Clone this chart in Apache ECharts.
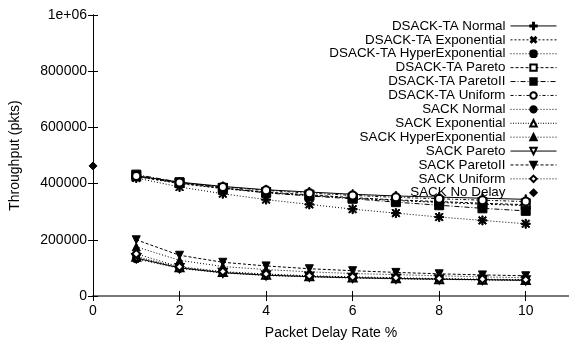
<!DOCTYPE html>
<html>
<head>
<meta charset="utf-8">
<script src="https://cdn.jsdelivr.net/npm/echarts@6/dist/echarts.min.js"></script>
<style>
  html, body { margin: 0; padding: 0; background: #fff; }
  #chart { width: 569px; height: 345px; }
</style>
</head>
<body>
<div id="chart"></div>
<script>
// Packet delay rate (%) on the x axis
const delayRates = [1, 2, 3, 4, 5, 6, 7, 8, 9, 10];

// Throughput (packets) per delay distribution
const dsackNormal      = [428000, 405000, 390000, 378000, 370000, 362000, 356000, 352000, 348000, 344000];
const dsackExponential = [425000, 400000, 382000, 368000, 358000, 348000, 340000, 333000, 327000, 322000];
const dsackHyperExp    = [420000, 388000, 364000, 343000, 326000, 309000, 295000, 281000, 269000, 257000];
const dsackPareto      = [426000, 402000, 384000, 370000, 360000, 350000, 342000, 336000, 330000, 325000];
const dsackParetoII    = [432000, 405000, 385000, 367000, 356000, 346000, 334000, 323000, 312000, 303000];
const dsackUniform     = [427000, 404000, 388000, 376000, 366000, 358000, 351000, 346000, 341000, 336000];

const sackNormal       = [132000, 98000, 82000, 73000, 68000, 64000, 61000, 59000, 57000, 55000];
const sackExponential  = [140000, 102000, 85000, 76000, 70000, 66000, 63000, 60000, 58000, 57000];
const sackHyperExp     = [175000, 127000, 105000, 94000, 86000, 80000, 76000, 72000, 68000, 65000];
const sackPareto       = [135000, 100000, 83000, 74000, 69000, 65000, 62000, 60000, 58000, 56000];
const sackParetoII     = [200000, 145000, 120000, 107000, 97000, 90000, 84000, 79000, 75000, 72000];
const sackUniform      = [150000, 104000, 87000, 78000, 72000, 68000, 65000, 62000, 60000, 58000];

// Baseline without delay (single point at 0 %)
const noDelayRate = [0];
const noDelayThroughput = [463000];

const FONT = '"Liberation Sans", Arial, Helvetica, sans-serif';

// point glyphs
const PLUS = 'path://M4.3,0h1.4v10h-1.4zM0,4.3h10v1.4h-10z';
const STAR = 'path://M4.3,0h1.4v10h-1.4zM0,4.3h10v1.4h-10zM0.5,1.5L1.5,0.5L9.5,8.5L8.5,9.5zM8.5,0.5L9.5,1.5L1.5,9.5L0.5,8.5z';

function pairs(xs, ys) {
  return xs.map((x, i) => [x, ys[i]]);
}

function lineSeries(name, xs, ys, symbol, size, dash, rotate, noLine) {
  return {
    name: name,
    type: 'line',
    data: pairs(xs, ys),
    symbol: symbol,
    symbolSize: size,
    symbolRotate: rotate || 0,
    showAllSymbol: true,
    color: '#000',
    lineStyle: { color: '#000', width: noLine ? 0 : 1, opacity: noLine ? 0 : 1, type: dash },
    itemStyle: { color: '#000', borderColor: '#000', borderWidth: 1 },
    emphasis: { disabled: true },
    animation: false
  };
}

const series = [
  lineSeries('DSACK-TA Normal', delayRates, dsackNormal, PLUS, 9, 'solid'),
  lineSeries('DSACK-TA Exponential', delayRates, dsackExponential, PLUS, 9, [2, 2], 45),
  lineSeries('DSACK-TA HyperExponential', delayRates, dsackHyperExp, STAR, 9, [1, 2]),
  lineSeries('DSACK-TA Pareto', delayRates, dsackPareto, 'emptyRect', 8, [3, 2]),
  lineSeries('DSACK-TA ParetoII', delayRates, dsackParetoII, 'rect', 9, [5, 2, 1, 2]),
  lineSeries('DSACK-TA Uniform', delayRates, dsackUniform, 'emptyCircle', 8, [3, 2, 1, 2]),
  lineSeries('SACK Normal', delayRates, sackNormal, 'circle', 8, [1, 2]),
  lineSeries('SACK Exponential', delayRates, sackExponential, 'emptyTriangle', 8, [1, 1.5]),
  lineSeries('SACK HyperExponential', delayRates, sackHyperExp, 'triangle', 8, [1, 2]),
  lineSeries('SACK Pareto', delayRates, sackPareto, 'emptyTriangle', 8, 'solid', 180),
  lineSeries('SACK ParetoII', delayRates, sackParetoII, 'triangle', 8, [3, 2], 180),
  lineSeries('SACK Uniform', delayRates, sackUniform, 'emptyDiamond', 8, [1, 2]),
  lineSeries('SACK No Delay', noDelayRate, noDelayThroughput, 'diamond', 8, 'solid', 0, true)
];

const chart = echarts.init(document.getElementById('chart'), null, { renderer: 'canvas' });

chart.setOption({
  backgroundColor: '#fff',
  animation: false,
  textStyle: { fontFamily: FONT },
  grid: { left: 88, top: 15, width: 484, height: 288, containLabel: false },
  legend: {
    orient: 'vertical',
    right: 7,
    top: 14,
    align: 'right',
    itemWidth: 46,
    itemHeight: 8,
    itemGap: 0,
    selectedMode: false,
    lineStyle: { width: 1 },
    textStyle: { fontFamily: FONT, fontSize: 13.4, color: '#000', lineHeight: 13.9 },
    data: series.map(s => s.name)
  },
  xAxis: [
    {
      type: 'value',
      min: 0,
      max: 11,
      interval: 2,
      name: 'Packet Delay Rate %',
      nameLocation: 'middle',
      nameGap: 30,
      nameTextStyle: { fontFamily: FONT, fontSize: 14, color: '#000' },
      axisLine: { lineStyle: { color: '#000', width: 1 } },
      axisTick: { inside: true, length: 5, lineStyle: { color: '#000' } },
      axisLabel: { fontFamily: FONT, fontSize: 14, color: '#000', margin: 8, showMaxLabel: false },
      splitLine: { show: false }
    },
    {
      type: 'value',
      position: 'top',
      min: 0,
      max: 11,
      interval: 2,
      axisLine: { lineStyle: { color: '#777', width: 2 } },
      axisTick: { inside: true, length: 5, lineStyle: { color: '#000' } },
      axisLabel: { show: false },
      splitLine: { show: false }
    }
  ],
  yAxis: [
    {
      type: 'value',
      min: 0,
      max: 1000000,
      interval: 200000,
      name: 'Throughput (pkts)',
      nameLocation: 'middle',
      nameGap: 71,
      nameRotate: 90,
      nameTextStyle: { fontFamily: FONT, fontSize: 14, color: '#000' },
      axisLine: { show: true, lineStyle: { color: '#000', width: 1 } },
      axisTick: { show: true, inside: true, length: 5, lineStyle: { color: '#000' } },
      axisLabel: {
        fontFamily: FONT, fontSize: 14, color: '#000', margin: 6,
        formatter: v => (v === 1000000 ? '1e+06' : String(v))
      },
      splitLine: { show: false }
    },
    {
      type: 'value',
      position: 'right',
      min: 0,
      max: 1000000,
      interval: 200000,
      axisLine: { show: true, lineStyle: { color: '#000', width: 1 } },
      axisTick: { show: true, inside: true, length: 5, lineStyle: { color: '#000' } },
      axisLabel: { show: false },
      splitLine: { show: false }
    }
  ],
  series: series
});
</script>
</body>
</html>
